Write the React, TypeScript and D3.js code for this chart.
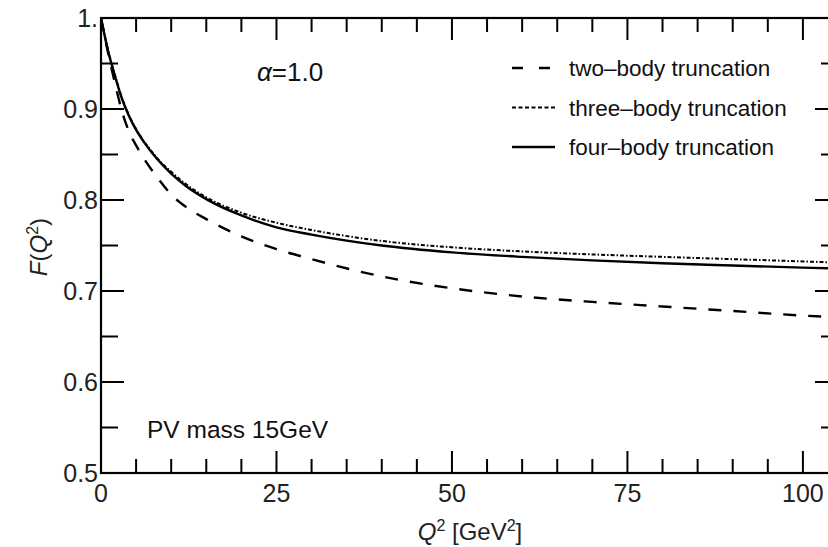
import React, { useEffect } from 'react';
import * as d3 from 'd3';

// Form factor F(Q^2) versus Q^2 [GeV^2] for three truncation levels
const qValues = [0, 1, 2, 3, 4, 5, 6, 8, 10, 12, 15, 20, 25, 30, 40, 50, 60, 70, 80, 90, 100, 105];
const twoBody = [1.0, 0.962, 0.928, 0.897, 0.875, 0.86, 0.847, 0.825, 0.806, 0.793, 0.779, 0.76, 0.746, 0.735, 0.716, 0.703, 0.694, 0.688, 0.683, 0.678, 0.673, 0.671];
const threeBody = [1.0, 0.965, 0.937, 0.912, 0.893, 0.878, 0.866, 0.846, 0.831, 0.818, 0.803, 0.786, 0.775, 0.767, 0.755, 0.748, 0.7435, 0.7402, 0.7375, 0.7350, 0.7325, 0.7312];
const fourBody = [1.0, 0.964, 0.936, 0.911, 0.892, 0.877, 0.865, 0.845, 0.829, 0.816, 0.801, 0.783, 0.77, 0.762, 0.75, 0.7425, 0.7375, 0.7336, 0.7305, 0.728, 0.7257, 0.7247];

const xMajorTicks = [0, 25, 50, 75, 100];
const xTickLabels = ['0', '25', '50', '75', '100'];
const yMajorTicks = [0.5, 0.6, 0.7, 0.8, 0.9, 1.0];
const yTickLabels = ['0.5', '0.6', '0.7', '0.8', '0.9', '1.'];

const legendLabels = ['two\u2013body truncation', 'three\u2013body truncation', 'four\u2013body truncation'];

const W = 828;
const H = 547;
const left = 101;
const right = 838;
const top = 18;
const bottom = 473;
const font = '"Liberation Sans", Arial, Helvetica, sans-serif';

const dashStyles = ['13 12', '4 2 1.5 2', ''];
const strokeWidths = [2.4, 2.0, 2.4];

export default function App() {
  useEffect(() => {
    document.body.style.margin = '0';
  }, []);

  const x = d3.scaleLinear().domain([0, 105]).range([left, right]);
  const y = d3.scaleLinear().domain([0.5, 1.0]).range([bottom, top]);

  const line = d3
    .line<[number, number]>()
    .x((d) => x(d[0]))
    .y((d) => y(d[1]))
    .curve(d3.curveMonotoneX);

  const series = [twoBody, threeBody, fourBody].map((vals) =>
    qValues.map((q, i) => [q, vals[i]] as [number, number])
  );

  const xMinor = d3.range(0, 106, 5).filter((v) => v % 25 !== 0);
  const yMinor = [0.55, 0.65, 0.75, 0.85, 0.95];

  const xMajLen = 22;
  const xMinLen = 14;
  const yMajLen = 23;
  const yMinLen = 17;

  return (
    <svg
      width={W}
      height={H}
      style={{ position: 'absolute', left: 0, top: 0, background: '#fff' }}
      fontFamily={font}
    >
      <defs>
        <clipPath id="plotClip">
          <rect x={left} y={top} width={right - left} height={bottom - top} />
        </clipPath>
      </defs>

      {/* curves */}
      <g clipPath="url(#plotClip)">
        {series.map((s, i) => (
          <path
            key={i}
            d={line(s) || ''}
            fill="none"
            stroke="#000"
            strokeWidth={strokeWidths[i]}
            strokeDasharray={dashStyles[i] || undefined}
          />
        ))}
      </g>

      {/* frame */}
      <rect x={left} y={top} width={right - left} height={bottom - top} fill="none" stroke="#000" strokeWidth={2.2} />

      {/* x ticks, bottom and top */}
      {xMajorTicks.map((v) => (
        <g key={'xM' + v}>
          <line x1={x(v)} x2={x(v)} y1={bottom} y2={bottom - xMajLen} stroke="#000" strokeWidth={2} />
          <line x1={x(v)} x2={x(v)} y1={top} y2={top + xMajLen} stroke="#000" strokeWidth={2} />
        </g>
      ))}
      {xMinor.map((v) => (
        <g key={'xm' + v}>
          <line x1={x(v)} x2={x(v)} y1={bottom} y2={bottom - xMinLen} stroke="#000" strokeWidth={2} />
          <line x1={x(v)} x2={x(v)} y1={top} y2={top + xMinLen} stroke="#000" strokeWidth={2} />
        </g>
      ))}
      {xMajorTicks.map((v, i) => (
        <text key={'xl' + v} x={x(v)} y={502} textAnchor="middle" fontSize={25} fill="#222">
          {xTickLabels[i]}
        </text>
      ))}

      {/* y ticks, left and right */}
      {yMajorTicks.map((v) => (
        <g key={'yM' + v}>
          <line x1={left} x2={left + yMajLen} y1={y(v)} y2={y(v)} stroke="#000" strokeWidth={2} />
          <line x1={right} x2={right - yMajLen} y1={y(v)} y2={y(v)} stroke="#000" strokeWidth={2} />
        </g>
      ))}
      {yMinor.map((v) => (
        <g key={'ym' + v}>
          <line x1={left} x2={left + yMinLen} y1={y(v)} y2={y(v)} stroke="#000" strokeWidth={2} />
          <line x1={right} x2={right - yMinLen} y1={y(v)} y2={y(v)} stroke="#000" strokeWidth={2} />
        </g>
      ))}
      {yMajorTicks.map((v, i) => (
        <text key={'yl' + v} x={98} y={y(v) + 9} textAnchor="end" fontSize={25} fill="#222">
          {yTickLabels[i]}
        </text>
      ))}

      {/* axis titles */}
      <text x={470} y={540} textAnchor="middle" fontSize={24} fill="#222">
        <tspan fontStyle="italic">Q</tspan>
        <tspan dy={-9} fontSize={16}>2</tspan>
        <tspan dy={9}> [GeV</tspan>
        <tspan dy={-9} fontSize={16}>2</tspan>
        <tspan dy={9}>]</tspan>
      </text>
      <text transform="translate(47,247) rotate(-90)" textAnchor="middle" fontSize={24} fill="#222">
        <tspan fontStyle="italic">F</tspan>
        <tspan>(</tspan>
        <tspan fontStyle="italic">Q</tspan>
        <tspan dy={-9} fontSize={16}>2</tspan>
        <tspan dy={9}>)</tspan>
      </text>

      {/* annotations */}
      <text x={257} y={81} fontSize={26} fill="#111">
        <tspan fontStyle="italic">α</tspan>
        <tspan>=1.0</tspan>
      </text>
      <text x={147} y={438} fontSize={24.5} fill="#111">
        PV mass 15GeV
      </text>

      {/* legend */}
      {legendLabels.map((lab, i) => {
        const cy = 68 + i * 39.5;
        return (
          <g key={lab}>
            <line
              x1={512}
              x2={i === 0 ? 552 : 555}
              y1={cy}
              y2={cy}
              stroke="#000"
              strokeWidth={strokeWidths[i]}
              strokeDasharray={i === 0 ? '11 16' : i === 1 ? '4 2.5' : undefined}
            />
            <text x={569} y={cy + 8} fontSize={22.5} fill="#111">
              {lab}
            </text>
          </g>
        );
      })}
    </svg>
  );
}
